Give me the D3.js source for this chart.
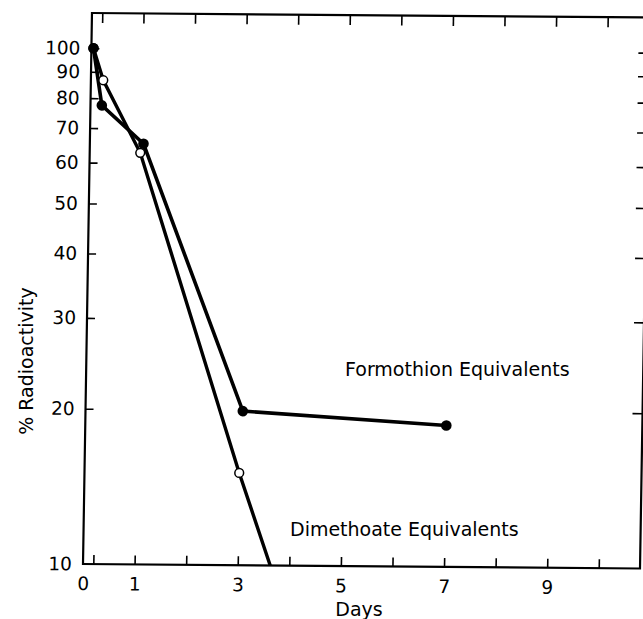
<!DOCTYPE html>
<html>
<head>
<meta charset="utf-8">
<script src="https://cdn.jsdelivr.net/npm/d3@7/dist/d3.min.js"></script>
<style>
  html, body { margin: 0; padding: 0; background: #fff; overflow: hidden; }
  text { font-family: "DejaVu Sans", sans-serif; fill: #000; }
</style>
</head>
<body>
<div id="chart"></div>
<script>
// Formothion equivalents (filled circles)
var formDays = [0.04, 0.22, 1.04, 3.05, 7.0];
var formPct = [100, 77.5, 65.4, 19.9, 18.8];

// Dimethoate equivalents (open circles)
var dimDays = [0.04, 0.24, 0.98, 3.0];
var dimPct = [100, 86.7, 62.8, 15.1];
// the dimethoate line runs on until it meets the bottom axis
var dimTailDay = 3.63;
var dimTailPct = 10;

var xTicks = [0.2, 1, 2, 3, 4, 5, 6, 7, 8, 9, 10];
var xLabels = [0, 1, 3, 5, 7, 9];
var yLabels = [10, 20, 30, 40, 50, 60, 70, 80, 90, 100];
var yTicks = [20, 30, 40, 50, 60, 70, 80, 90, 100];

var width = 643, height = 619;
var plotLeft = 83, plotRight = 640, plotTop = 13, plotBottom = 564;

var svg = d3.select("#chart").append("svg")
    .attr("width", width)
    .attr("height", height)
    .style("display", "block");

var x = d3.scaleLinear().domain([0, 10.8]).range([plotLeft, plotRight]);
var y = d3.scaleLog().domain([10, 117]).range([plotBottom, plotTop]);

// the printed figure is slightly sheared/tilted, so the plot group is too
var g = svg.append("g")
    .attr("transform", "translate(" + plotLeft + "," + plotBottom + ") matrix(1,0.0081,-0.0163,1,0,0) translate(" + (-plotLeft) + "," + (-plotBottom) + ")");

// ticks (all pointing inward)
function styleAxis(sel) {
    sel.select(".domain").remove();
    sel.selectAll(".tick line").attr("stroke", "#000").attr("stroke-width", 1.6);
    sel.selectAll("text").style("font-size", "18.5px").style("font-family", "DejaVu Sans").attr("fill", "#000");
}

g.append("g").attr("transform", "translate(0," + plotBottom + ")")
    .call(d3.axisBottom(x).tickValues(xTicks).tickSize(-9).tickFormat(""))
    .call(styleAxis);
g.append("g").attr("transform", "translate(0," + plotTop + ")")
    .call(d3.axisTop(x).tickValues(xTicks).tickSize(-10).tickFormat(""))
    .call(styleAxis);
g.append("g").attr("transform", "translate(0," + plotBottom + ")")
    .call(d3.axisBottom(x).tickValues(xLabels).tickSize(0).tickPadding(13).tickFormat(d3.format("d")))
    .call(styleAxis);

g.append("g").attr("transform", "translate(" + plotLeft + ",0)")
    .call(d3.axisLeft(y).tickValues(yTicks).tickSize(-8).tickFormat(""))
    .call(styleAxis);
g.append("g").attr("transform", "translate(" + plotRight + ",0)")
    .call(d3.axisRight(y).tickValues(yTicks).tickSize(-10).tickFormat(""))
    .call(styleAxis);
g.append("g").attr("transform", "translate(" + plotLeft + ",0)")
    .call(d3.axisLeft(y).tickValues(yLabels).tickSize(0).tickPadding(11).tickFormat(d3.format("d")))
    .call(styleAxis);

// frame
g.append("rect")
    .attr("x", plotLeft).attr("y", plotTop)
    .attr("width", plotRight - plotLeft).attr("height", plotBottom - plotTop)
    .attr("fill", "none")
    .attr("stroke", "#000")
    .attr("stroke-width", 2.2);

var line = d3.line()
    .x(d => x(d[0]))
    .y(d => y(d[1]));

var formPts = formDays.map((d, i) => [d, formPct[i]]);
var dimPts = dimDays.map((d, i) => [d, dimPct[i]]);

g.append("path")
    .attr("d", line(dimPts.concat([[dimTailDay, dimTailPct]])))
    .attr("fill", "none")
    .attr("stroke", "#000")
    .attr("stroke-width", 3.4);

g.append("path")
    .attr("d", line(formPts))
    .attr("fill", "none")
    .attr("stroke", "#000")
    .attr("stroke-width", 3.6);

g.selectAll(".open")
    .data(dimPts)
    .enter().append("circle")
    .attr("class", "open")
    .attr("cx", d => x(d[0]))
    .attr("cy", d => y(d[1]))
    .attr("r", 4.4)
    .attr("fill", "#fff")
    .attr("stroke", "#000")
    .attr("stroke-width", 1.5);

g.selectAll(".filled")
    .data(formPts)
    .enter().append("circle")
    .attr("class", "filled")
    .attr("cx", d => x(d[0]))
    .attr("cy", d => y(d[1]))
    .attr("r", 5.3)
    .attr("fill", "#000");

// labels
svg.append("text")
    .attr("x", 345).attr("y", 375.5)
    .style("font-size", "19px")
    .text("Formothion Equivalents");

svg.append("text")
    .attr("x", 290).attr("y", 535.5)
    .style("font-size", "19px")
    .text("Dimethoate Equivalents");

svg.append("text")
    .attr("x", 359).attr("y", 616)
    .attr("text-anchor", "middle")
    .style("font-size", "19px")
    .text("Days");

svg.append("text")
    .attr("transform", "translate(33,361) rotate(-90)")
    .attr("text-anchor", "middle")
    .style("font-size", "19px")
    .text("% Radioactivity");
</script>
</body>
</html>
